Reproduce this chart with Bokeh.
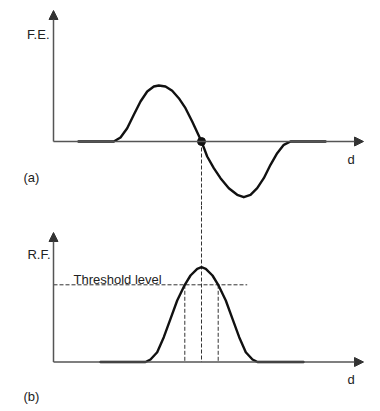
from bokeh.plotting import figure
from bokeh.layouts import column
from bokeh.models import Range1d, Arrow, NormalHead
from bokeh.core.properties import value
from bokeh.embed import file_html
from bokeh.resources import INLINE

# ---- data: panel (a) force error F.E. versus displacement d
fe_d = [2.5, 6.03, 6.7, 7.37, 8.03, 8.7, 9.37, 10.03, 10.53, 11.2, 11.87, 12.53,
        13.2, 13.87, 14.8, 15.37, 16.03, 16.7, 17.53, 18.37, 19.03, 19.7, 20.37,
        21.03, 21.7, 22.37, 23.03, 23.7, 27.2]
fe_val = [0, 0, 0.4, 1.33, 2.67, 4.0, 5.0, 5.5, 5.6, 5.5, 5.07, 4.33,
          3.33, 2.0, 0, -1.5, -2.67, -3.67, -4.67, -5.33, -5.57, -5.33, -4.67,
          -3.67, -2.33, -1.17, -0.33, 0, 0]
zero_cross_d = [14.8]

# ---- data: panel (b) response function R.F. versus d
rf_d = [4.7, 9.2, 9.7, 10.37, 11.03, 11.7, 12.37, 13.13, 13.7, 14.37, 14.8,
        15.23, 15.9, 16.47, 17.23, 17.9, 18.57, 19.23, 19.9, 20.4, 25.0]
rf_val = [0, 0, 0.25, 0.98, 2.48, 4.32, 6.15, 7.72, 8.65, 9.32, 9.48,
          9.32, 8.65, 7.72, 6.15, 4.32, 2.48, 0.98, 0.25, 0, 0]
threshold = 7.72
threshold_end_d = 19.37
threshold_cross_d = [13.13, 16.47]

# ---- text labels
top_labels = ["F.E.", "(a)", "d"]
bottom_labels = ["R.F.", "Threshold level", "(b)", "d"]

FONT = "Liberation Sans"
TXT = "#222222"
AX = "#555555"
CURVE = "#111111"
DASH = "#333333"

W = 380

def base(h, yr):
    p = figure(width=W, height=h, output_backend="svg", toolbar_location=None,
               x_range=Range1d(-5.3, 32.7), y_range=Range1d(*yr),
               x_axis_type=None, y_axis_type=None, min_border=0)
    p.grid.visible = False
    p.outline_line_color = None
    p.background_fill_color = "white"
    p.border_fill_color = "white"
    return p

def axes(p, ytip, xtip):
    p.add_layout(Arrow(end=NormalHead(size=9, fill_color="#333333", line_color="#333333", line_width=1),
                       x_start=0, y_start=0, x_end=0, y_end=ytip,
                       line_color=AX, line_width=1.5))
    p.add_layout(Arrow(end=NormalHead(size=9, fill_color="#333333", line_color="#333333", line_width=1),
                       x_start=0, y_start=0, x_end=xtip, y_end=0,
                       line_color=AX, line_width=1.5))

def label(p, x, y, t, align):
    p.text(x=[x], y=[y], text=[t], text_font=value(FONT), text_font_size="13px",
           text_color=TXT, text_align=align, text_baseline="alphabetic")

# ---------------- top panel (a)
p1 = base(205, (-6.4, 14.1))
axes(p1, 13.1, 31.0)
p1.segment(x0=zero_cross_d, y0=[0], x1=zero_cross_d, y1=[p1.y_range.start],
           line_color=DASH, line_width=1, line_dash="4 2")
p1.line(fe_d, fe_val, line_color=CURVE, line_width=2.4, line_join="round", line_cap="round")
p1.scatter(zero_cross_d, [0], size=8, fill_color=CURVE, line_color=CURVE)
label(p1, -0.4, 10.7, top_labels[0], "right")
label(p1, -3.0, -3.6, top_labels[1], "left")
label(p1, 29.4, -1.8, top_labels[2], "left")

# ---------------- bottom panel (b)
p2 = base(206, (-4.95, 15.65))
axes(p2, 12.95, 31.0)
p2.segment(x0=zero_cross_d, y0=[p2.y_range.end], x1=zero_cross_d, y1=[0],
           line_color=DASH, line_width=1, line_dash="4 2")
p2.segment(x0=threshold_cross_d, y0=[threshold] * 2, x1=threshold_cross_d, y1=[0, 0],
           line_color=DASH, line_width=1, line_dash="4 2")
p2.segment(x0=[0], y0=[threshold], x1=[threshold_end_d], y1=[threshold],
           line_color=DASH, line_width=1, line_dash="4 2")
p2.line(rf_d, rf_val, line_color=CURVE, line_width=2.4, line_join="round", line_cap="round")
label(p2, -0.3, 10.72, bottom_labels[0], "right")
label(p2, 2.0, 8.25, bottom_labels[1], "left")
label(p2, -3.0, -3.45, bottom_labels[2], "left")
label(p2, 29.4, -1.75, bottom_labels[3], "left")

layout = column(p1, p2, spacing=0)
open("out.html", "w").write(file_html(layout, INLINE))
